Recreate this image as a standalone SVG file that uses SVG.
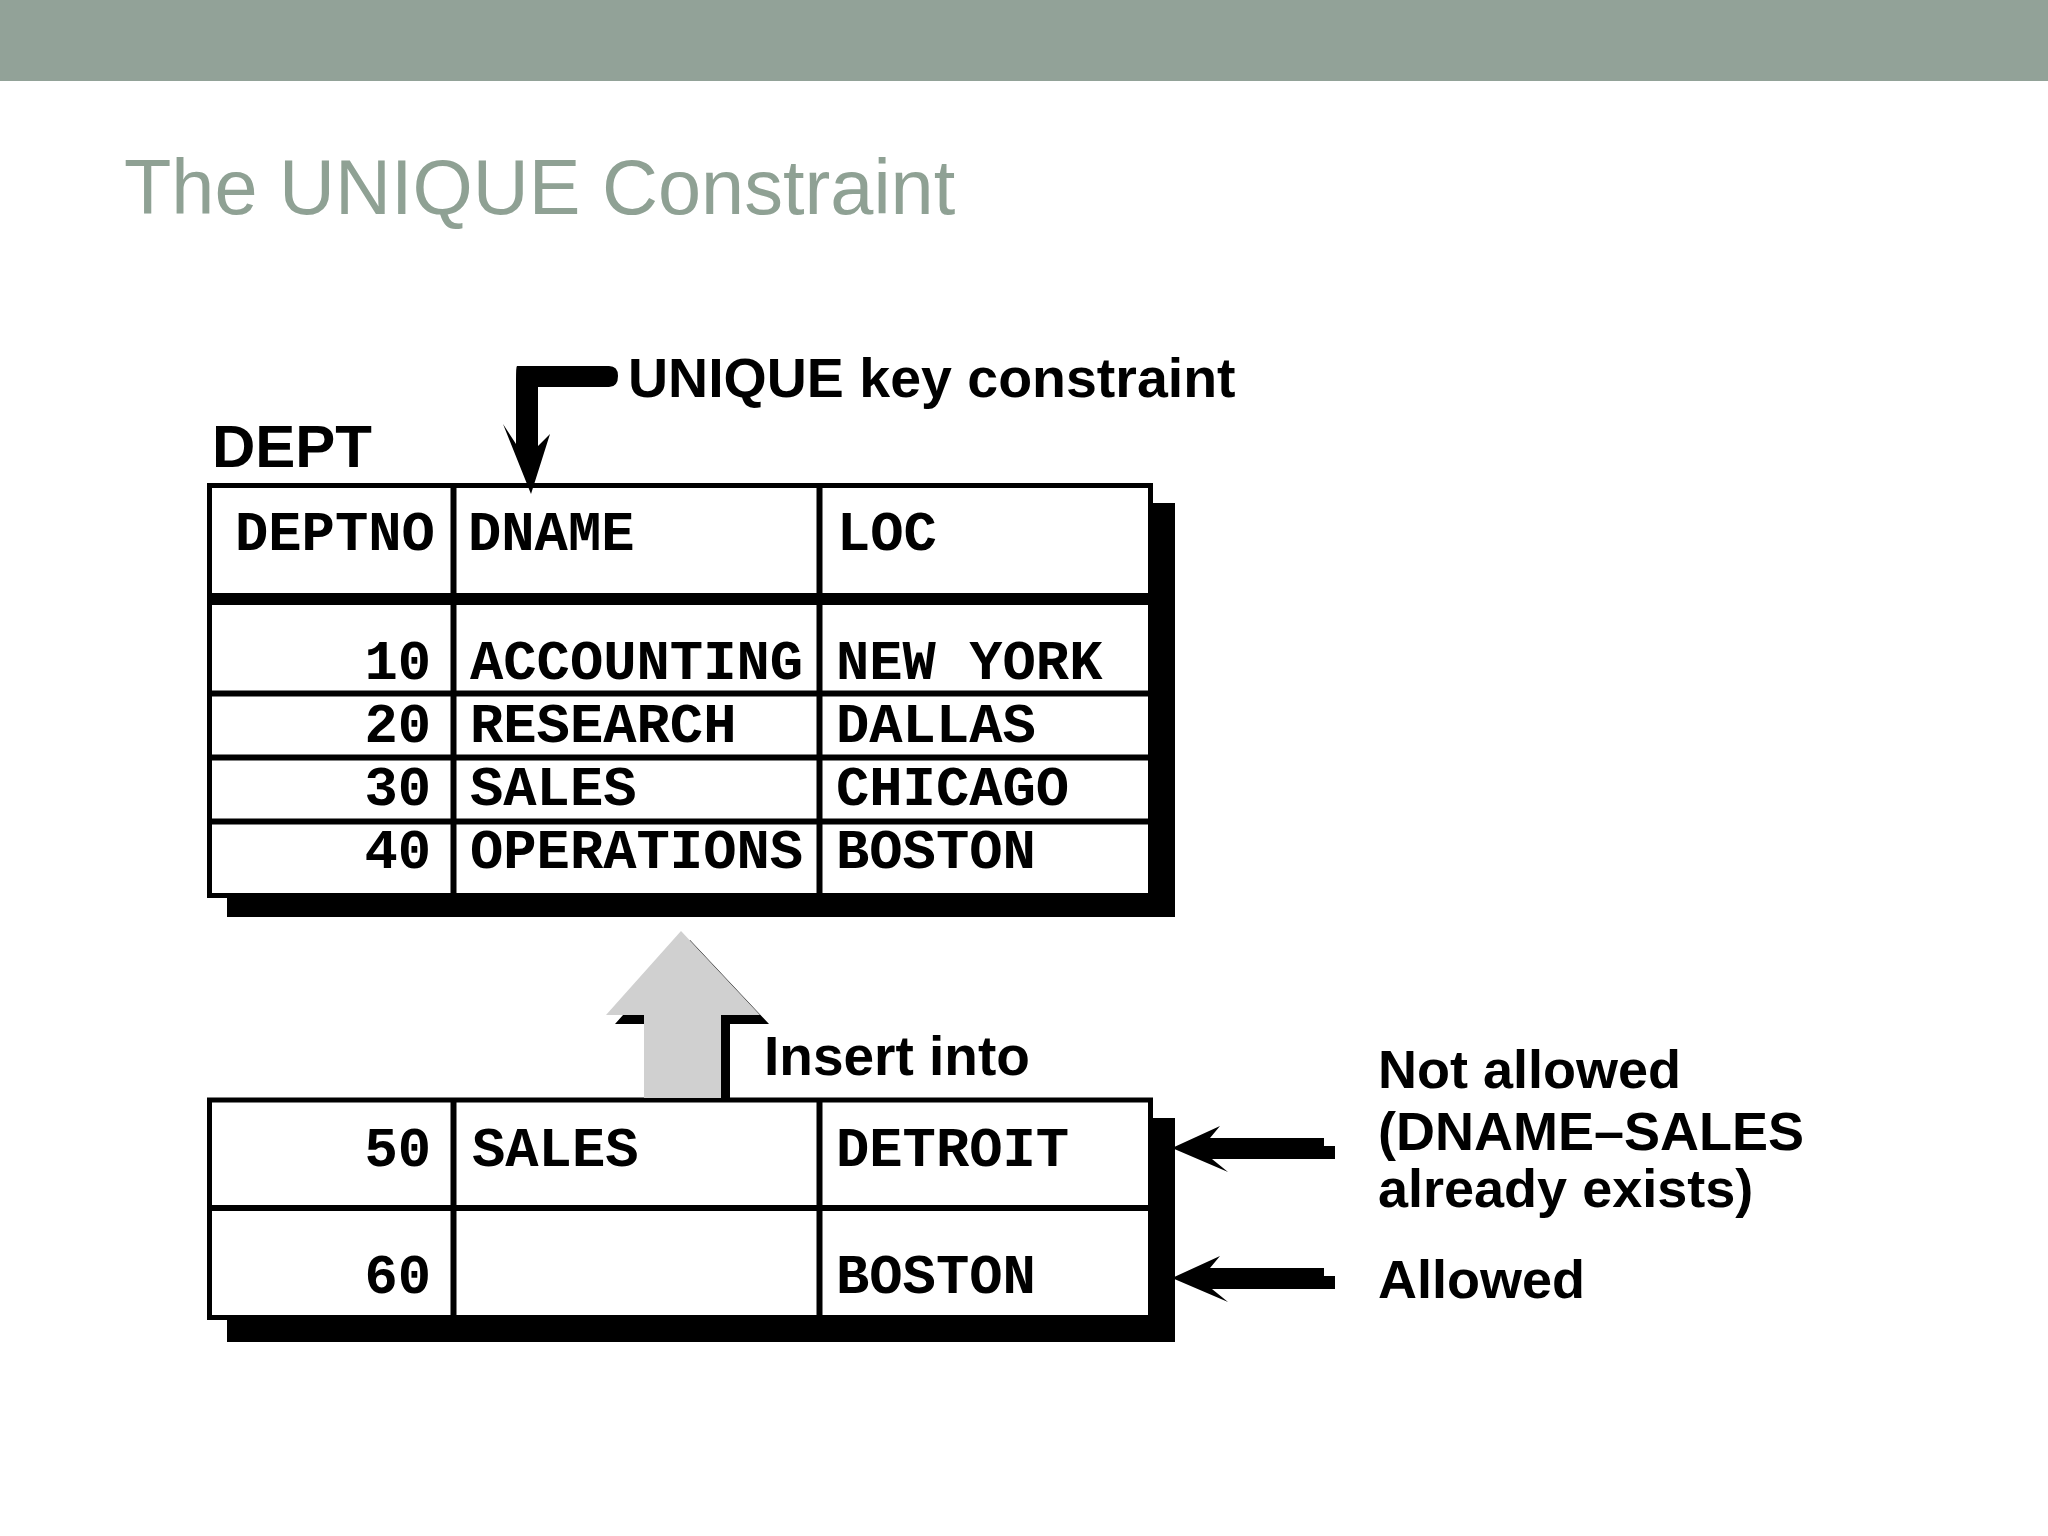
<svg xmlns="http://www.w3.org/2000/svg" width="2048" height="1536" viewBox="0 0 2048 1536">
<style>
.mono{font-family:"Liberation Mono","Courier New",monospace;font-weight:bold;font-size:55.5px;fill:#000}
.lbl{font-family:"Liberation Sans",Arial,sans-serif;font-weight:bold;fill:#000}
.frame{fill:#fff;stroke:#000;stroke-width:5}
.ln{stroke:#000;stroke-width:6;fill:none}
.shadow{fill:#000}
</style>
<rect x="0" y="0" width="2048" height="81" fill="#92A298"/>
<text x="124" y="214" font-family="Liberation Sans, Arial, sans-serif" font-size="77.5" fill="#8FA194">The UNIQUE Constraint</text>

<g id="dept-table">
  <text class="lbl" x="212" y="467" font-size="60">DEPT</text>
  <rect class="shadow" x="227" y="503" width="948" height="414"/>
  <rect class="frame" x="209.5" y="485.5" width="941" height="410"/>
  <line class="ln" x1="453.5" y1="485" x2="453.5" y2="896"/>
  <line class="ln" x1="819.5" y1="485" x2="819.5" y2="896"/>
  <line x1="209" y1="599" x2="1151" y2="599" stroke="#000" stroke-width="12"/>
  <line class="ln" x1="209" y1="693.5" x2="1151" y2="693.5"/>
  <line class="ln" x1="209" y1="757.5" x2="1151" y2="757.5"/>
  <line class="ln" x1="209" y1="821.5" x2="1151" y2="821.5"/>
  <text class="mono" x="235" y="550">DEPTNO</text>
  <text class="mono" x="468" y="550">DNAME</text>
  <text class="mono" x="837" y="550">LOC</text>
  <text class="mono" x="431" y="679" text-anchor="end">10</text>
  <text class="mono" x="470" y="679">ACCOUNTING</text>
  <text class="mono" x="836" y="679">NEW YORK</text>
  <text class="mono" x="431" y="742" text-anchor="end">20</text>
  <text class="mono" x="470" y="742">RESEARCH</text>
  <text class="mono" x="836" y="742">DALLAS</text>
  <text class="mono" x="431" y="805" text-anchor="end">30</text>
  <text class="mono" x="470" y="805">SALES</text>
  <text class="mono" x="836" y="805">CHICAGO</text>
  <text class="mono" x="431" y="868" text-anchor="end">40</text>
  <text class="mono" x="470" y="868">OPERATIONS</text>
  <text class="mono" x="836" y="868">BOSTON</text>
</g>

<g id="insert-table">
  <rect class="shadow" x="227" y="1118" width="948" height="224"/>
  <rect class="frame" x="209.5" y="1100" width="941" height="217.5"/>
  <line class="ln" x1="453.5" y1="1100" x2="453.5" y2="1318"/>
  <line class="ln" x1="819.5" y1="1100" x2="819.5" y2="1318"/>
  <line class="ln" x1="209" y1="1208" x2="1151" y2="1208"/>
  <text class="mono" x="431" y="1166" text-anchor="end">50</text>
  <text class="mono" x="472" y="1166">SALES</text>
  <text class="mono" x="836" y="1166">DETROIT</text>
  <text class="mono" x="431" y="1293" text-anchor="end">60</text>
  <text class="mono" x="836" y="1293">BOSTON</text>
</g>

<g id="connectors">
  <path id="unique-arrow" d="M517,366 L609,366 Q618,366 618,376 Q618,387 609,387 L538,387 L538,446 L550,434 L531,494 L503,424 L516,444 L516,380 Q516,366 517,366 Z" fill="#000"/>
  <g id="insert-arrow">
    <polygon points="690,940 769,1024 730,1024 730,1098 653,1098 653,1024 615,1024" fill="#000"/>
    <polygon points="681,931 760,1015 721,1015 721,1098 644,1098 644,1015 606,1015" fill="#D0D0D0"/>
  </g>
  <path id="arrow-notallowed" d="M1172,1148 L1220,1126 L1210,1138 L1324,1138 L1324,1146 L1335,1146 L1335,1159 L1212,1159 L1228,1172 Z" fill="#000"/>
  <path id="arrow-allowed" d="M1172,1278 L1220,1256 L1210,1268 L1324,1268 L1324,1276 L1335,1276 L1335,1289 L1212,1289 L1228,1302 Z" fill="#000"/>
</g>

<g id="unique-label">
  <text class="lbl" x="628" y="397" font-size="55.5">UNIQUE key constraint</text>
</g>

<g id="insert-label">
  <text class="lbl" x="764" y="1075" font-size="55">Insert into</text>
</g>

<g id="not-allowed-label">
  <text class="lbl" font-size="54" x="1378" y="1088">Not allowed</text>
  <text class="lbl" font-size="54" x="1378" y="1150">(DNAME–SALES</text>
  <text class="lbl" font-size="54" x="1378" y="1207">already exists)</text>
</g>
<g id="allowed-label">
  <text class="lbl" font-size="54" x="1378" y="1298">Allowed</text>
</g>
</svg>
